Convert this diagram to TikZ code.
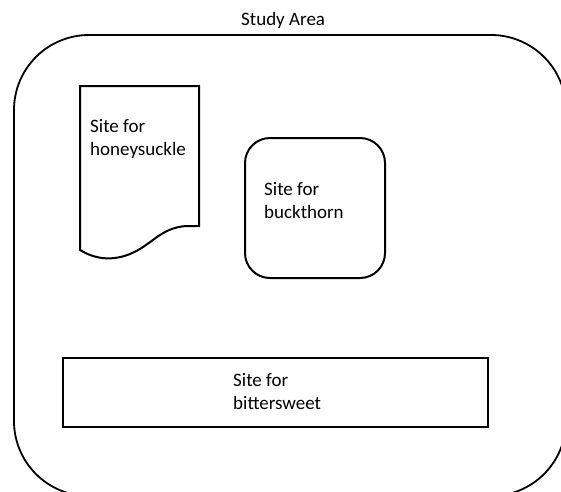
\documentclass[tikz,border=0pt]{standalone}
\usepackage{fontspec}
\setmainfont{Carlito}
\begin{document}
\begin{tikzpicture}[x=1pt,y=-1pt,
  outline/.style={draw=black,line width=2pt},
  lbl/.style={anchor=base west,inner sep=0pt,align=left,font=\fontsize{19}{23}\selectfont}]
\useasboundingbox (0,0) rectangle (561,491);
\clip (0,0) rectangle (561,491);
% study area
\draw[outline,line width=1.8pt,rounded corners=75pt] (14,35) rectangle (566,496);
\node[lbl] (title) at (241,25) {Study Area};
% honeysuckle document shape
\draw[outline,line join=miter] (80,250) -- (80,86) -- (199,86) -- (199,226) -- (186,226)
  .. controls (160,228) and (152,245) .. (130,254)
  .. controls (110,262) and (93,258) .. (80,250) -- cycle;
\node[lbl] (hs) at (90,155) {Site for\\honeysuckle};
% buckthorn
\draw[outline,rounded corners=25pt] (245,138) rectangle (385,278);
\node[lbl] (bt) at (264,218) {Site for\\buckthorn};
% bittersweet
\draw[outline,line join=miter] (63,358) rectangle (488,427);
\node[lbl] (bs) at (233,409) {Site for\\bittersweet};
\end{tikzpicture}
\end{document}
